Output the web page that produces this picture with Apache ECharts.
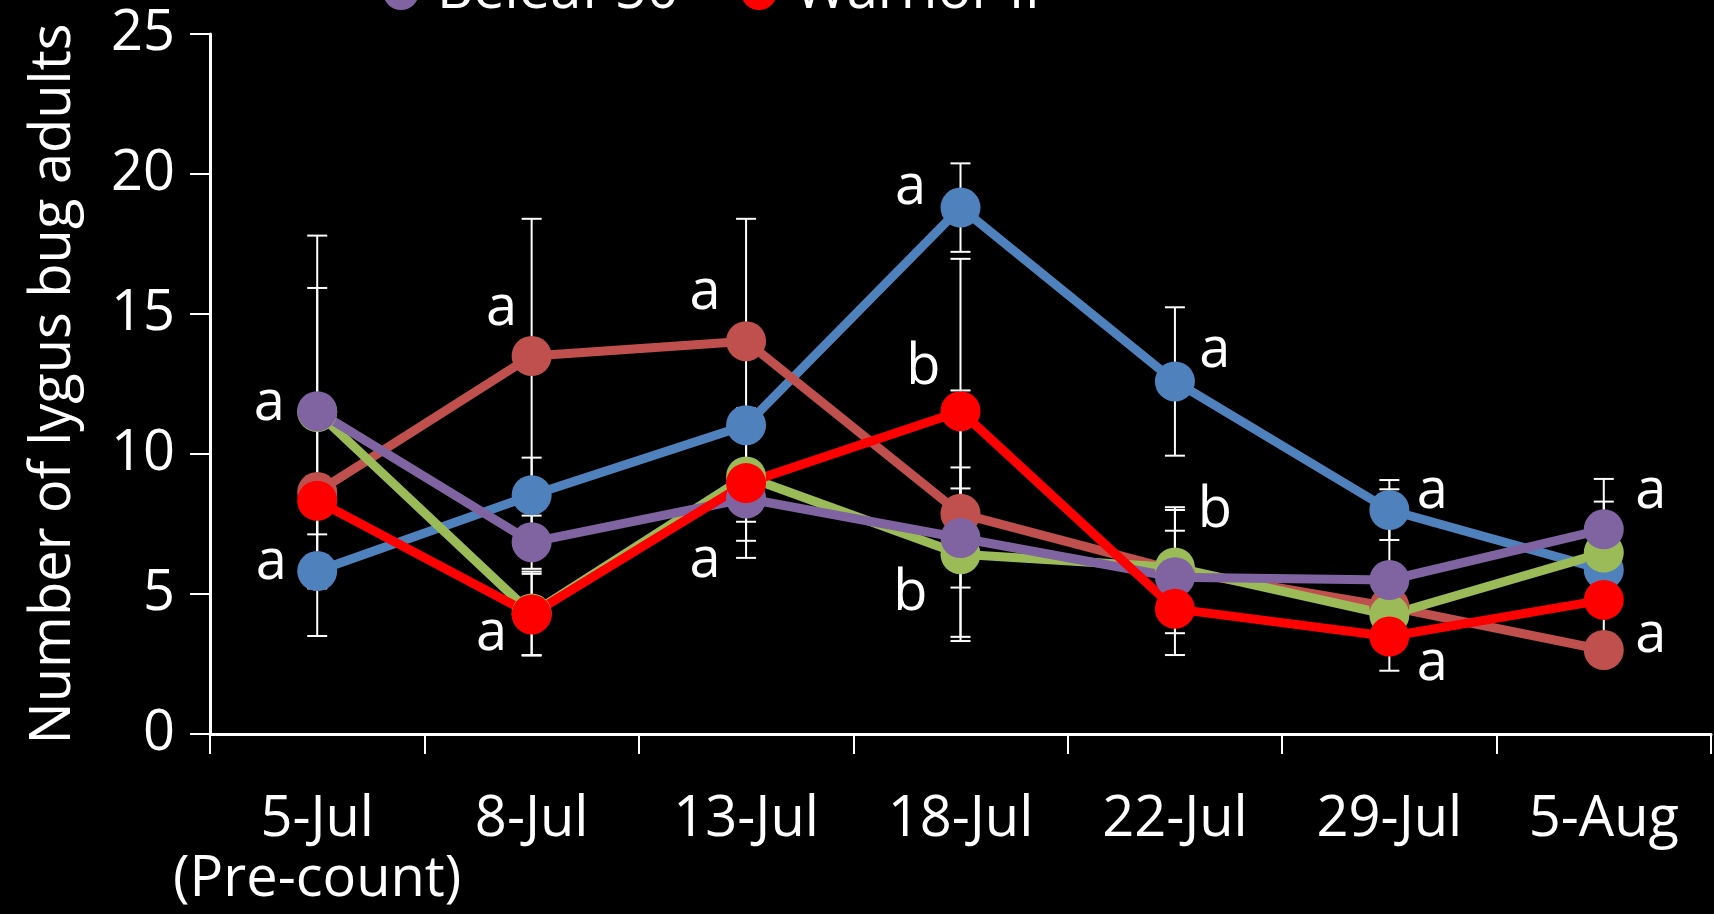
<!DOCTYPE html>
<html>
<head>
<meta charset="utf-8">
<script src="https://cdn.jsdelivr.net/npm/echarts@6/dist/echarts.min.js"></script>
<style>
  html, body { margin: 0; padding: 0; background: #000; }
  #chart { width: 1714px; height: 914px; }
</style>
</head>
<body>
<div id="chart"></div>
<script>
// Sampling dates (first one is the pre-treatment count)
const dates = ['5-Jul', '8-Jul', '13-Jul', '18-Jul', '22-Jul', '29-Jul', '5-Aug'];
const preCountNote = '(Pre-count)';

// Series names
const seriesNames = ['Untreated check', 'Transform WG', 'Sivanto 200', 'Beleaf 50', 'Warrior II'];

// Mean number of lygus bug adults per sample
const blueMeans     = [5.82, 8.53, 11.03, 18.8, 12.59, 8.0, 5.86];
const brickMeans    = [8.64, 13.5, 14.03, 7.87, 5.85, 4.55, 3.0];
const greenMeans    = [11.5, 4.3, 9.2, 6.42, 5.95, 4.25, 6.48];
const purpleMeans   = [11.53, 6.85, 8.41, 7.0, 5.6, 5.5, 7.31];
const redMeans      = [8.33, 4.27, 8.96, 11.53, 4.47, 3.48, 4.79];

// Standard errors
const blueErr   = [2.32, 1.34, 0.5, 1.58, 2.65, 1.07, 2.44];
const brickErr  = [0.5, 4.9, 4.37, 4.4, 2.25, 0.5, 0.5];
const greenErr  = [6.3, 1.5, 2.3, 3.1, 2.05, 0.5, 0.5];
const purpleErr = [4.4, 0.95, 0.83, 1.77, 1.66, 3.24, 1.8];
const redErr    = [0.5, 1.45, 2.67, 5.44, 1.65, 0.5, 0.5];

// Mean separation letters (null = no letter on that date)
const blueLetters   = ['a', null, null, 'a', 'a', 'a', null];
const brickLetters  = [null, 'a', 'a', null, null, null, 'a'];
const greenLetters  = [null, null, null, 'b', 'b', null, null];
const purpleLetters = ['a', null, 'a', null, null, null, 'a'];
const redLetters    = [null, 'a', null, 'b', null, 'a', null];

// Y axis range
const yMin = 0, yMax = 25, yStep = 5;

// Where each letter sits relative to its marker (pixels)
const letterOffsets = {
  blue:   { 0: [-46, -8], 3: [-50, -20], 4: [40, -30], 5: [43, -18] },
  brick:  { 1: [-30, -47], 2: [-41, -48], 6: [47, -14] },
  green:  { 3: [-50, 40], 4: [40, -56] },
  purple: { 0: [-48, -7], 2: [-41, 63], 6: [47, -37] },
  red:    { 1: [-40, 20], 3: [-37, -43], 5: [43, 27] }
};

const FONT = 'Open Sans';
const FS = 56;

const groups = [
  { key: 'blue',   name: seriesNames[0], color: '#4F81BD', means: blueMeans,   err: blueErr,   letters: blueLetters },
  { key: 'brick',  name: seriesNames[1], color: '#C0504D', means: brickMeans,  err: brickErr,  letters: brickLetters },
  { key: 'green',  name: seriesNames[2], color: '#9BBB59', means: greenMeans,  err: greenErr,  letters: greenLetters },
  { key: 'purple', name: seriesNames[3], color: '#8064A2', means: purpleMeans, err: purpleErr, letters: purpleLetters },
  { key: 'red',    name: seriesNames[4], color: '#FF0000', means: redMeans,    err: redErr,    letters: redLetters }
];

function lineSeries(g) {
  return {
    name: g.name,
    type: 'line',
    z: 3,
    symbol: 'circle',
    symbolSize: 40,
    showSymbol: true,
    lineStyle: { color: g.color, width: 9 },
    itemStyle: { color: g.color },
    emphasis: { disabled: true },
    data: g.means.map((v, i) => {
      const letter = g.letters[i];
      if (!letter) return v;
      return {
        value: v,
        label: {
          show: true,
          position: 'inside',
          formatter: letter,
          offset: letterOffsets[g.key][i],
          color: '#fff',
          fontFamily: FONT,
          fontSize: FS
        }
      };
    })
  };
}

function errorSeries(g) {
  const data = g.means.map((v, i) => g.err[i] == null ? null : [i, v - g.err[i], v + g.err[i]])
    .filter(Boolean);
  return {
    type: 'custom',
    z: 1,
    silent: true,
    data: data,
    encode: { x: 0, y: [1, 2] },
    renderItem: function (params, api) {
      const x = api.value(0);
      const lo = api.coord([x, api.value(1)]);
      const hi = api.coord([x, api.value(2)]);
      const half = 10;
      const style = { stroke: '#fff', lineWidth: 2 };
      return {
        type: 'group',
        children: [
          { type: 'line', shape: { x1: lo[0], y1: lo[1], x2: hi[0], y2: hi[1] }, style: style },
          { type: 'line', shape: { x1: lo[0] - half, y1: lo[1], x2: lo[0] + half, y2: lo[1] }, style: style },
          { type: 'line', shape: { x1: hi[0] - half, y1: hi[1], x2: hi[0] + half, y2: hi[1] }, style: style }
        ]
      };
    }
  };
}

function legendAt(left, name) {
  return {
    data: [name],
    left: left,
    top: -41,
    icon: 'circle',
    itemWidth: 36,
    itemHeight: 36,
    selectedMode: false,
    textStyle: { color: '#fff', fontFamily: FONT, fontSize: FS, padding: [0, 0, 0, 13] }
  };
}

const chart = echarts.init(document.getElementById('chart'), null, { renderer: 'canvas' });
chart.setOption({
  backgroundColor: '#000',
  animation: false,
  textStyle: { fontFamily: FONT },
  legend: [legendAt(378, seriesNames[3]), legendAt(736, seriesNames[4])],
  grid: { left: 210, right: 3, top: 34, bottom: 180, containLabel: false },
  xAxis: {
    type: 'category',
    data: dates,
    boundaryGap: true,
    axisLine: { show: true, lineStyle: { color: '#fff', width: 3 } },
    axisTick: { show: true, length: 20, lineStyle: { color: '#fff', width: 2 } },
    axisLabel: {
      color: '#fff',
      fontFamily: FONT,
      fontSize: FS,
      lineHeight: 60,
      margin: 56,
      interval: 0,
      formatter: (v, i) => i === 0 ? v + '\n' + preCountNote : v
    },
    splitLine: { show: false }
  },
  yAxis: {
    type: 'value',
    min: yMin,
    max: yMax,
    interval: yStep,
    name: 'Number of lygus bug adults',
    nameLocation: 'middle',
    nameGap: 128,
    nameTextStyle: { color: '#fff', fontFamily: FONT, fontSize: FS },
    axisLine: { show: true, lineStyle: { color: '#fff', width: 3 } },
    axisTick: { show: true, length: 20, lineStyle: { color: '#fff', width: 2 } },
    axisLabel: { color: '#fff', fontFamily: FONT, fontSize: FS, margin: 35 },
    splitLine: { show: false }
  },
  series: groups.map(errorSeries).concat(groups.map(lineSeries))
});
</script>
</body>
</html>
